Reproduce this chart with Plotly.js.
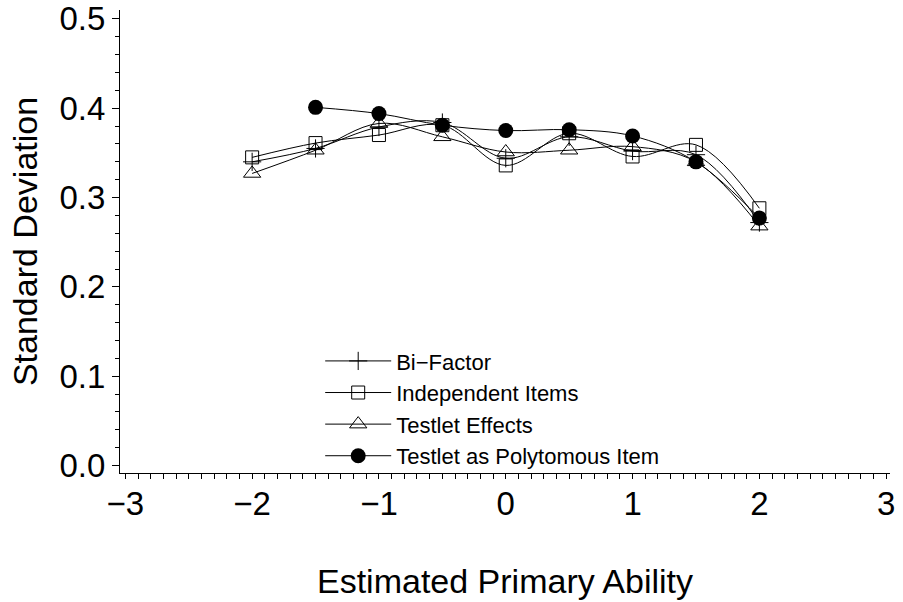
<!DOCTYPE html>
<html>
<head>
<meta charset="utf-8">
<script src="https://cdn.plot.ly/plotly-3.0.1.min.js"></script>
<style>html,body{margin:0;padding:0;background:#fff;}#chart{width:903px;height:602px;}</style>
</head>
<body>
<div id="chart"></div>
<script>
// Data
const ability = [-2, -1.5, -1, -0.5, 0, 0.5, 1, 1.5, 2];
const biFactor = [0.340, 0.355, 0.379, 0.384, 0.344, 0.368, 0.352, 0.348, 0.272];
const independentItems = [0.345, 0.361, 0.370, 0.381, 0.336, 0.372, 0.346, 0.359, 0.288];
const testletEffects = [0.327, 0.353, 0.383, 0.368, 0.351, 0.353, 0.357, 0.340, 0.268];
const abilityPoly = [-1.5, -1, -0.5, 0, 0.5, 1, 1.5, 2];
const testletPolytomous = [0.401, 0.394, 0.381, 0.375, 0.376, 0.369, 0.340, 0.277];
const seriesNames = ['Bi\u2212Factor', 'Independent Items', 'Testlet Effects', 'Testlet as Polytomous Item'];
const xTickVals = [-3, -2, -1, 0, 1, 2, 3];
const yTickVals = [0.0, 0.1, 0.2, 0.3, 0.4, 0.5];

const FONT = 'Liberation Sans, Arial, sans-serif';
const lineStyle = {color: '#000', width: 1, shape: 'spline', smoothing: 1};
const xRange = [-3.042, 3.03];

const traces = [
  {x: ability, y: biFactor, name: seriesNames[0], mode: 'lines+markers', line: lineStyle,
   marker: {symbol: 'cross-thin', size: 13, color: '#000', line: {color: '#000', width: 1}}},
  {x: ability, y: independentItems, name: seriesNames[1], mode: 'lines+markers', line: lineStyle,
   marker: {symbol: 'square-open', size: 13, color: '#000', line: {color: '#000', width: 1}}},
  {x: ability, y: testletEffects, name: seriesNames[2], mode: 'lines+markers', line: lineStyle,
   marker: {symbol: 'triangle-up-open', size: 15, color: '#000', line: {color: '#000', width: 1}}},
  {x: abilityPoly, y: testletPolytomous, name: seriesNames[3], mode: 'lines+markers', line: lineStyle,
   marker: {symbol: 'circle', size: 15, color: '#000', line: {color: '#000', width: 0}}}
];

const layout = {
  width: 903, height: 602,
  paper_bgcolor: '#fff', plot_bgcolor: '#fff',
  margin: {l: 120, r: 13, t: 10, b: 129, pad: 0},
  font: {family: FONT, color: '#000', size: 33},
  showlegend: true,
  legend: {x: 0.26, y: 0.287, xanchor: 'left', yanchor: 'top',
           font: {family: FONT, size: 22, color: '#000'},
           bgcolor: 'rgba(0,0,0,0)', itemwidth: 66, tracegroupgap: 0},
  xaxis: {
    range: xRange, tickvals: xTickVals, ticks: 'outside', ticklen: 1, tickwidth: 1,
    tickcolor: '#000', showline: true, linecolor: '#000', linewidth: 1, showgrid: false,
    zeroline: false, tickfont: {size: 33, family: FONT},
    minor: {dtick: 0.1, tick0: 0, ticks: 'outside', ticklen: 5, tickcolor: '#000', tickwidth: 1, showgrid: false},
    title: {text: 'Estimated Primary Ability', font: {size: 34, family: FONT}, standoff: 48}
  },
  xaxis2: {
    overlaying: 'x', anchor: 'y', side: 'bottom', range: xRange, tickvals: xTickVals,
    ticks: 'outside', ticklen: 9, tickwidth: 1, tickcolor: '#000', showticklabels: false,
    showline: false, showgrid: false, zeroline: false
  },
  yaxis: {
    range: [-0.0084, 0.51], tickvals: yTickVals, tickformat: '.1f', ticks: 'outside', ticklen: 7, tickwidth: 1,
    tickcolor: '#000', showline: true, linecolor: '#000', linewidth: 1, showgrid: false,
    zeroline: false, tickfont: {size: 33, family: FONT},
    minor: {dtick: 0.02, tick0: 0, ticks: 'outside', ticklen: 4, tickcolor: '#000', tickwidth: 1, showgrid: false},
    title: {text: 'Standard Deviation', font: {size: 34, family: FONT}, standoff: 11}
  }
};

Plotly.newPlot('chart', traces, layout, {displayModeBar: false, staticPlot: true});
</script>
</body>
</html>
